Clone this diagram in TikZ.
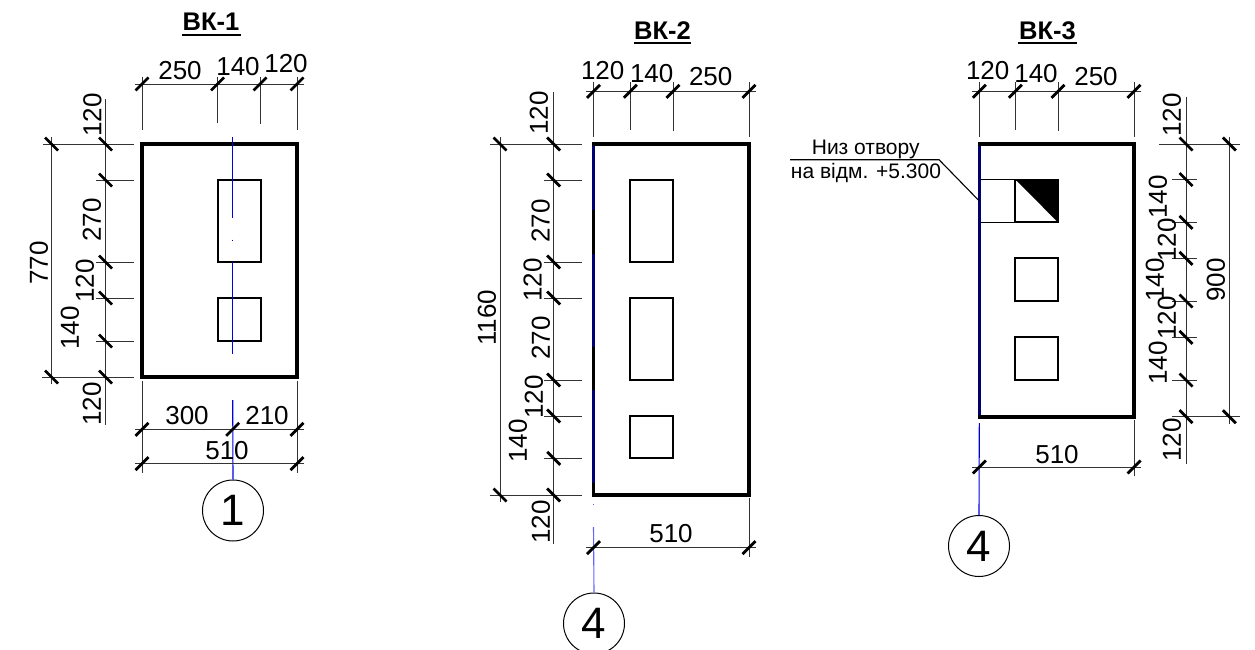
\documentclass[tikz,border=0pt]{standalone}
\usepackage{fontspec}
\setmainfont{Liberation Sans}
\tikzset{
  ln/.style={line width=0.9pt,draw=black!80},
  wall/.style={line width=3.6pt,draw=black,line join=miter},
  hole/.style={line width=2pt,draw=black},
  tickm/.style={line width=2.8pt,draw=black},
  axisb/.style={line width=1.1pt,draw=blue!90!black},
  axisn/.style={line width=2.4pt,draw=blue!45!black},
  dimt/.style={inner sep=0pt,font=\fontsize{26}{26}\selectfont},
  dimv/.style={dimt,rotate=90},
  ttl/.style={inner sep=0pt,font=\fontsize{25.5}{26}\bfseries\selectfont},
  note/.style={inner sep=0pt,font=\fontsize{21}{22}\selectfont},
  axcirc/.style={circle,draw=black,line width=1pt,minimum size=61pt,inner sep=0pt,font=\fontsize{44}{44}\selectfont}
}
\newcommand{\tickh}[2]{\draw[tickm] (#1-6.5,#2+6.5) -- (#1+6.5,#2-6.5);}
\newcommand{\tickv}[2]{\draw[tickm] (#1-6.5,#2-6.5) -- (#1+6.5,#2+6.5);}
\begin{document}
\begin{tikzpicture}[x=1pt,y=-1pt]
\useasboundingbox (0,0) rectangle (1255,650);
\fill[white] (0,0) rectangle (1255,650);
% ---------- BK-1
\node[ttl] (t1) at (211,22) {ВК-1};
\draw[line width=1.3pt] (182,35) -- (241,35);
\draw[hole] (217.5,180) rectangle (260.5,262);
\draw[hole] (217.5,298) rectangle (260.5,341);
\draw[wall] (142,144) rectangle (297,377);
\draw[axisb] (232.7,137) -- (232.7,218);
\draw[axisb] (232.7,239.5) -- (232.7,240.5);
\draw[axisb] (232.7,262) -- (232.7,354);
\node[axcirc] (c1) at (233,510.5) {1};
\draw[axisb] (232.7,400) -- (c1.north);
% top dim
\draw[ln] (135,84) -- (304,84);
\foreach \x/\e in {142/130,217.5/123,260/124,297/130}{
  \draw[ln] (\x,77) -- (\x,\e);
  \tickh{\x}{84}
}
\node[dimt] (a1) at (180,71) {250};
\node[dimt] (a2) at (238,67) {140};
\node[dimt] (a3) at (286,64) {120};
% left dim
\draw[ln] (105.5,99) -- (105.5,425);
\draw[ln] (51.5,137) -- (51.5,384);
\draw[ln] (43,144) -- (134,144);
\draw[ln] (42,377) -- (134,377);
\tickv{51.5}{144}\tickv{51.5}{377}
\foreach \y in {180,262,298,341}{\draw[ln] (96,\y) -- (134,\y);}
\foreach \y in {144,180,262,298,341,377}{\tickv{105.5}{\y}}
\node[dimv] (a4) at (92.5,115) {120};
\node[dimv] (a5) at (92,220) {270};
\node[dimv] (a6) at (85,281) {120};
\node[dimv] (a7) at (70,328) {140};
\node[dimv] (a8) at (92,404) {120};
\node[dimv] (a9) at (39,263) {770};
% bottom dims
\draw[ln] (142,381) -- (142,473);
\draw[ln] (297,381) -- (297,473);
\draw[ln] (135,429.3) -- (304,429.3);
\draw[ln] (135,463.7) -- (304,463.7);
\tickh{142}{429.3}\tickh{232.7}{429.3}\tickh{297}{429.3}
\tickh{142}{463.7}\tickh{297}{463.7}
\node[dimt] (a10) at (187,416) {300};
\node[dimt] (a11) at (267,416) {210};
\node[dimt] (a12) at (227,451) {510};
% ---------- BK-2
\node[ttl] (t2) at (662.5,31) {ВК-2};
\draw[line width=1.3pt] (634,43) -- (691,43);
\draw[hole] (630.3,180) rectangle (673,262);
\draw[hole] (630.3,298) rectangle (673,380);
\draw[hole] (630.3,416) rectangle (673,458.3);
\draw[wall] (593.5,144) rectangle (749,495);
\foreach \a/\b in {146/210,254/347,390/483}{\draw[axisn] (593.5,\a) -- (593.5,\b);}
\draw[axisb,blue!60] (593.5,503.5) -- (593.5,504.5);
\node[axcirc] (c2) at (594,623.5) {4};
\draw[axisb,blue!60] (593.5,527) -- (c2.north);
\draw[ln] (586,91.3) -- (756,91.3);
\foreach \x/\e in {593.5/137,630.3/130,673/131.5,749/137}{
  \draw[ln] (\x,82) -- (\x,\e);
  \tickh{\x}{91.3}
}
\node[dimt] (b1) at (602.7,71) {120};
\node[dimt] (b2) at (651.7,74) {140};
\node[dimt] (b3) at (710.7,77) {250};
\draw[ln] (553.7,92) -- (553.7,544);
\draw[ln] (500,137) -- (500,502);
\draw[ln] (490,144) -- (582,144);
\draw[ln] (490,495) -- (582,495);
\tickv{500}{144}\tickv{500}{495}
\foreach \y in {180,262,298,380,416,458.3}{\draw[ln] (544,\y) -- (582,\y);}
\foreach \y in {144,180,262,298,380,416,458.3,495}{\tickv{553.7}{\y}}
\node[dimv] (b4) at (539,113) {120};
\node[dimv] (b5) at (540.7,221) {270};
\node[dimv] (b6) at (532.7,280) {120};
\node[dimv] (b7) at (541,338) {270};
\node[dimv] (b8) at (534,397) {120};
\node[dimv] (b9) at (518,441) {140};
\node[dimv] (b10) at (541,522) {120};
\node[dimv] (b11) at (487,318) {1160};
\draw[ln] (586,547.7) -- (756,547.7);
\draw[ln] (749,498) -- (749,557);
\tickh{593.5}{547.7}\tickh{749}{547.7}
\node[dimt] (b12) at (671,534) {510};
% ---------- BK-3
\node[ttl] (t3) at (1047.5,31) {ВК-3};
\draw[line width=1.3pt] (1018,43) -- (1077,43);
\draw[hole] (1015.3,179.5) rectangle (1058,222.3);
\fill[black] (1015.3,179.5) -- (1058,179.5) -- (1058,222.3) -- cycle;
\draw[hole] (1015.3,258.3) rectangle (1058,301);
\draw[hole] (1015.3,337.3) rectangle (1058,380);
\draw[line width=1.2pt] (979,179.5) -- (1015.3,179.5);
\draw[line width=1.2pt] (979,222.3) -- (1015.3,222.3);
\draw[wall] (979.3,144) rectangle (1134,416.7);
\draw[axisn] (979.3,146) -- (979.3,415);
\node[axcirc] (c3) at (979,546) {4};
\draw[axisb] (979.3,423) -- (c3.north);
\draw[ln] (972,91.3) -- (1141,91.3);
\foreach \x/\e in {979.3/137,1015.3/130,1058/131,1134/137}{
  \draw[ln] (\x,82) -- (\x,\e);
  \tickh{\x}{91.3}
}
\node[dimt] (d1) at (987.7,71) {120};
\node[dimt] (d2) at (1036,74) {140};
\node[dimt] (d3) at (1096,77) {250};
\draw[line width=1.1pt] (790,159.7) -- (939,159.7) -- (979,200.7);
\node[note] (n1) at (865.7,149) {Низ отвору};
\node[note] (n2) at (866,173) {на відм. +5.300};
\draw[ln] (1186,96.7) -- (1186,464);
\draw[ln] (1229.3,137) -- (1229.3,424);
\draw[ln] (1159,144) -- (1240,144);
\draw[ln] (1172,416.7) -- (1240,416.7);
\tickv{1229.3}{144}\tickv{1229.3}{416.7}
\foreach \y in {179.5,222.3,258.3,301,337.3,380}{\draw[ln] (1172,\y) -- (1197,\y);}
\foreach \y in {144,179.5,222.3,258.3,301,337.3,380,416.7}{\tickv{1186}{\y}}
\node[dimv] (d4) at (1172,115) {120};
\node[dimv] (d5) at (1158,197) {140};
\node[dimv] (d6) at (1167,240) {120};
\node[dimv] (d7) at (1155,280) {140};
\node[dimv] (d8) at (1167,318) {120};
\node[dimv] (d9) at (1158,363) {140};
\node[dimv] (d10) at (1216,280) {900};
\node[dimv] (d11) at (1172,440) {120};
\draw[ln] (972,467) -- (1141,467);
\draw[ln] (1134,420) -- (1134,476);
\tickh{979.3}{467}\tickh{1134}{467}
\node[dimt] (d12) at (1057,455) {510};
\end{tikzpicture}
\end{document}
